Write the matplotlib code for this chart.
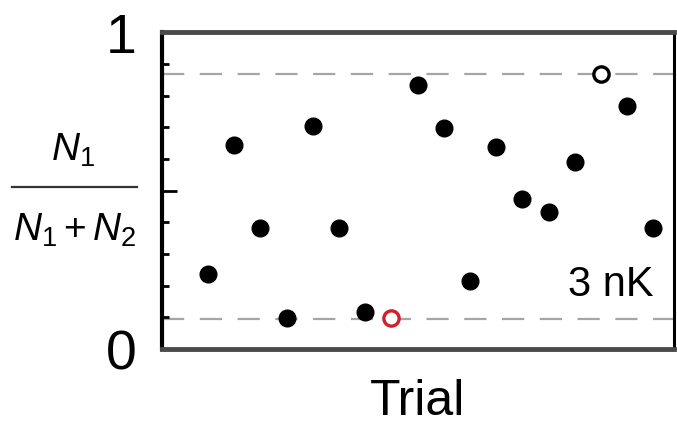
import numpy as np
import matplotlib.pyplot as plt

plt.rcParams['font.family'] = ['Liberation Sans', 'DejaVu Sans']
plt.rcParams['mathtext.fontset'] = 'custom'
plt.rcParams['mathtext.rm'] = 'Liberation Sans'
plt.rcParams['mathtext.it'] = 'Liberation Sans:italic'

# Data
trials = np.arange(1, 19)
ratio = [0.237, 0.645, 0.381, 0.097, 0.705, 0.381, 0.116, 0.097, 0.834,
         0.699, 0.216, 0.639, 0.473, 0.431, 0.591, 0.868, 0.768, 0.381]
red_trial = 8      # open red circle
open_trial = 16    # open black circle
levels = [0.095, 0.867]  # dashed reference lines

fig = plt.figure(figsize=(6.77, 4.31), dpi=100)
ax = fig.add_axes([0.239, 0.188, 0.756, 0.735])

for y in levels:
    ax.axhline(y, color='#a5a5a5', lw=1.6, dashes=(10, 7), zorder=1)

filled = [i for i, t in enumerate(trials) if t not in (red_trial, open_trial)]
ax.plot(trials[filled], np.array(ratio)[filled], 'o', color='black', ms=12, zorder=3)
ax.plot(red_trial, ratio[red_trial - 1], 'o', mfc='white', mec='#d0202e', mew=2.4, ms=11, zorder=3)
ax.plot(open_trial, ratio[open_trial - 1], 'o', mfc='white', mec='black', mew=2.4, ms=11, zorder=3)

ax.set_xlim(-0.76, 18.77)
ax.set_ylim(0, 1)
ax.set_xticks([])
ax.set_yticks([0, 0.5, 1])
ax.set_yticklabels(['0', '', '1'], fontsize=40)
ax.set_yticks(np.arange(0.1, 1.0, 0.1), minor=True)
ax.tick_params(axis='y', which='major', direction='in', length=11, width=2, pad=18)
ax.tick_params(axis='y', which='minor', direction='in', length=5, width=2)
ax.yaxis.get_major_ticks()[0].tick1line.set_visible(False)
ax.yaxis.get_major_ticks()[2].tick1line.set_visible(False)

ax.spines['top'].set_color('#4a4a4a')
ax.spines['bottom'].set_color('#4a4a4a')
ax.spines['top'].set_linewidth(3.5)
ax.spines['bottom'].set_linewidth(3.5)
ax.spines['left'].set_linewidth(3)
ax.spines['right'].set_linewidth(2.2)

ax.text(0.96, 0.205, '3 nK', transform=ax.transAxes, ha='right', va='center', fontsize=30)
ax.set_xlabel('Trial', fontsize=36, labelpad=21)

# y label as a fraction
fig.text(0.108, 0.652, r'$N_1$', ha='center', va='center', fontsize=28)
fig.add_artist(plt.Line2D([0.018, 0.203], [0.564, 0.564], color='#333333', lw=1.6))
fig.text(0.111, 0.465, r'$N_1 + N_2$', ha='center', va='center', fontsize=28)

fig.savefig('out.png', dpi=100)
